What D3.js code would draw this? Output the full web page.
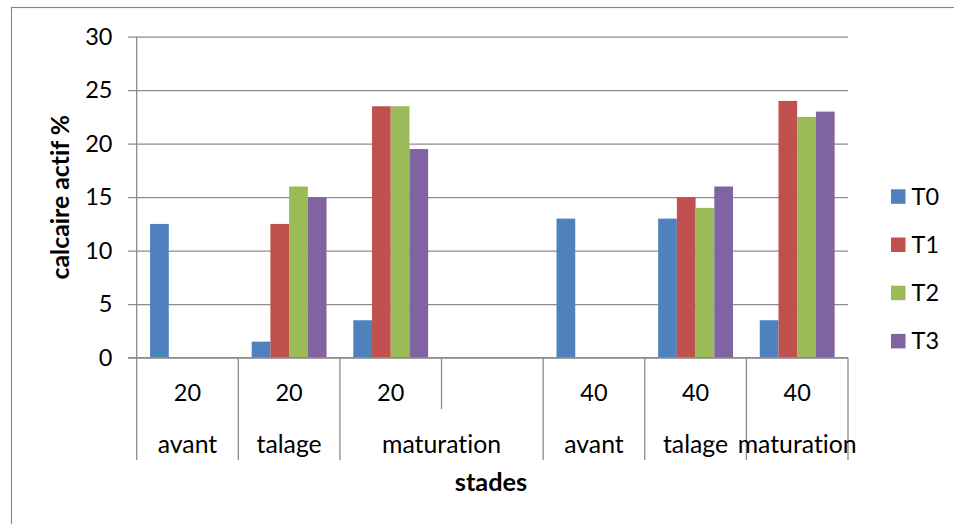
<!DOCTYPE html>
<html>
<head>
<meta charset="utf-8">
<script src="https://cdn.jsdelivr.net/npm/d3@7/dist/d3.min.js"></script>
<style>
  html, body { margin: 0; padding: 0; background: #fff; }
  svg { display: block; font-family: Lato, "Open Sans", sans-serif; font-variant-ligatures: none; font-feature-settings: "liga" 0, "dlig" 0; }
</style>
</head>
<body>
<svg id="chart" width="954" height="524"></svg>
<script>
// Depth labels (first row under the axis), one per category slot
const depths = ["20", "20", "20", "", "40", "40", "40"];
// Growth stage labels (second row) and how many slots each one spans
const stages = ["avant", "talage", "maturation", "avant", "talage", "maturation"];
const stageSpans = [1, 1, 2, 1, 1, 1];

// Active limestone (%) per treatment; null = no bar
const T0 = [12.5, 1.5, 3.5, null, 13, 13, 3.5];
const T1 = [null, 12.5, 23.5, null, null, 15, 24];
const T2 = [null, 16, 23.5, null, null, 14, 22.5];
const T3 = [null, 15, 19.5, null, null, 16, 23];

const seriesNames = ["T0", "T1", "T2", "T3"];
const seriesValues = [T0, T1, T2, T3];
const colors = ["#4F81BD", "#C0504D", "#9BBB59", "#8064A2"];

const yTicks = [0, 5, 10, 15, 20, 25, 30];

const svg = d3.select("#chart");
const plotLeft = 136.7, plotRight = 848, plotTop = 36.7, plotBottom = 357.7;
const gridColor = "#8c8c8c";
const fontSize = 23.5;
const labelSize = 24.8;

// Outer chart frame (only top and left edges fall inside the view)
svg.append("rect")
  .attr("x", 11.5).attr("y", 7.5)
  .attr("width", 1200).attr("height", 800)
  .attr("fill", "none").attr("stroke", "#8a8a8a").attr("stroke-width", 1.2);

const slots = d3.range(depths.length);
const x0 = d3.scaleBand().domain(slots).range([plotLeft, plotRight]).paddingInner(0).paddingOuter(0);
const bw = x0.bandwidth();
// 4 bars per slot with a gap of ~1.43 bar widths shared on both sides
const barW = bw / (4 + 1.43);
const x1 = d3.scaleBand().domain(seriesNames)
  .range([(bw - 4 * barW) / 2, (bw + 4 * barW) / 2]).padding(0);

const y = d3.scaleLinear().domain([0, 30]).range([plotBottom, plotTop]);

// Horizontal gridlines with left tick marks
const yAxis = d3.axisLeft(y).tickValues(yTicks).tickSize(plotRight - plotLeft + 8.7).tickPadding(16);
const gy = svg.append("g").attr("transform", `translate(${plotRight},0)`).call(yAxis);
gy.select(".domain").remove();
gy.selectAll(".tick line").attr("stroke", gridColor).attr("stroke-width", 1.3);
gy.selectAll(".tick text")
  .attr("x", -(plotRight - 112.5))
  .attr("fill", "#000").attr("font-size", fontSize)
  .attr("font-family", "Lato, sans-serif");

// Bars
const bars = [];
seriesValues.forEach((vals, si) => {
  vals.forEach((v, ci) => {
    if (v !== null) bars.push({ s: seriesNames[si], si, ci, v });
  });
});
svg.append("g").selectAll("rect").data(bars).join("rect")
  .attr("x", d => x0(d.ci) + x1(d.s))
  .attr("y", d => y(d.v))
  .attr("width", x1.bandwidth())
  .attr("height", d => y(0) - y(d.v))
  .attr("fill", d => colors[d.si]);

// Vertical value axis line, running down through the label rows
svg.append("line")
  .attr("x1", plotLeft).attr("x2", plotLeft)
  .attr("y1", plotTop).attr("y2", 460)
  .attr("stroke", gridColor).attr("stroke-width", 1.3);

// Baseline
svg.append("line")
  .attr("x1", 128).attr("x2", plotRight)
  .attr("y1", y(0)).attr("y2", y(0))
  .attr("stroke", gridColor).attr("stroke-width", 1.3);

// Category dividers: full height where a stage starts/ends, short otherwise
const stageBounds = new Set([0]);
let acc = 0;
stageSpans.forEach(s => { acc += s; stageBounds.add(acc); });
d3.range(1, depths.length + 1).forEach(i => {
  const xx = i < depths.length ? x0(i) : plotRight;
  svg.append("line")
    .attr("x1", xx).attr("x2", xx)
    .attr("y1", y(0)).attr("y2", stageBounds.has(i) ? 460 : 409)
    .attr("stroke", gridColor).attr("stroke-width", 1.3);
});

// First label row: depths
svg.append("g").selectAll("text").data(slots).join("text")
  .attr("x", i => x0(i) + bw / 2)
  .attr("y", 401)
  .attr("text-anchor", "middle")
  .attr("font-size", fontSize)
  .text(i => depths[i]);

// Second label row: stages centred over their spans
let start = 0;
const stageData = stages.map((s, k) => {
  const d = { label: s, from: start, span: stageSpans[k] };
  start += stageSpans[k];
  return d;
});
svg.append("g").selectAll("text").data(stageData).join("text")
  .attr("x", d => x0(d.from) + bw * d.span / 2)
  .attr("y", 453)
  .attr("text-anchor", "middle")
  .attr("font-size", labelSize)
  .text(d => d.label);

// Axis titles
svg.append("text")
  .attr("x", 491).attr("y", 491)
  .attr("text-anchor", "middle")
  .attr("font-size", labelSize + 0.5).attr("font-weight", "bold")
  .text("stades");

svg.append("text")
  .attr("transform", `translate(69,${(plotTop + plotBottom) / 2}) rotate(-90)`)
  .attr("text-anchor", "middle")
  .attr("font-size", labelSize).attr("font-weight", "bold")
  .text("calcaire actif %");

// Legend
const legend = svg.append("g").selectAll("g").data(seriesNames).join("g")
  .attr("transform", (d, i) => `translate(891,${196.5 + i * 48.2})`);
legend.append("rect")
  .attr("x", 0).attr("y", -7.2).attr("width", 14.5).attr("height", 14.5)
  .attr("fill", (d, i) => colors[i]);
legend.append("text")
  .attr("x", 20.5).attr("y", 8)
  .attr("font-size", fontSize)
  .text(d => d);
</script>
</body>
</html>
